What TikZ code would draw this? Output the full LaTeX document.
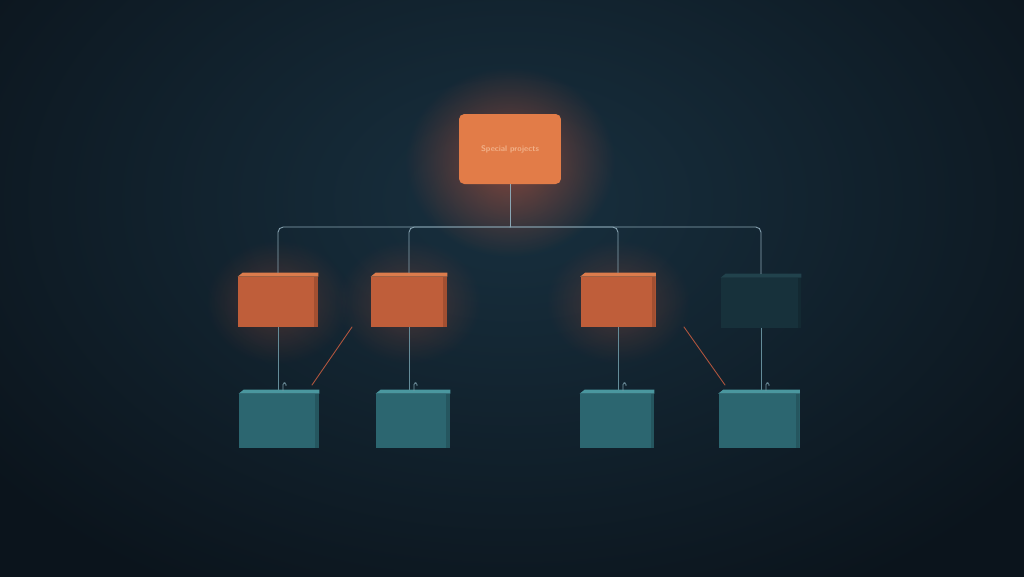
\documentclass[tikz,border=0pt]{standalone}
\usepackage{tikz}
\usetikzlibrary{fadings}

\definecolor{bgmid}{HTML}{18303F}
\definecolor{bgedge}{HTML}{0B141C}
\definecolor{topbox}{HTML}{E27C48}
\definecolor{glowcol}{HTML}{C8553A}
\definecolor{orbox}{HTML}{BF5E3A}
\definecolor{orlight}{HTML}{DC7C4C}
\definecolor{tealbox}{HTML}{2C6670}
\definecolor{teallight}{HTML}{4A979F}
\definecolor{darkbox}{HTML}{17313B}
\definecolor{darklight}{HTML}{21424C}
\definecolor{wirecol}{HTML}{8AA6B4}
\definecolor{redwire}{HTML}{B0553E}

\tikzfading[name=glowfade,inner color=transparent!0,outer color=transparent!100]

\begin{document}
\begin{tikzpicture}[x=0.02cm,y=-0.02cm,line cap=round]

    \tikzstyle{wire}=[draw=wirecol,line width=0.5pt,rounded corners=3pt]
    \tikzstyle{redline}=[draw=redwire,line width=0.5pt]
    \tikzstyle{cube}=[draw=none,inner sep=0pt,minimum height=1cm,
      path picture={\fill[black,opacity=0.15] ([xshift=-0.07cm]path picture bounding box.north east) rectangle (path picture bounding box.south east);}]
    \tikzstyle{glow}=[fill=#1,path fading=glowfade]

    % background
    \useasboundingbox (0,0) rectangle (1024,576);
    \clip (0,0) rectangle (1024,576);
    \shade[inner color=bgmid,outer color=bgedge] (-150,-250) rectangle (1174,650);

    % glows behind orange boxes
    \fill[glow=glowcol,opacity=0.6] (510,162) ellipse (105 and 95);
    \fill[glow=glowcol,opacity=0.3] (278,302) ellipse (72 and 62);
    \fill[glow=glowcol,opacity=0.3] (409,302) ellipse (72 and 62);
    \fill[glow=glowcol,opacity=0.3] (618,302) ellipse (72 and 62);

    % boxes
    \node[fill=topbox,rounded corners=3pt,minimum width=2.04cm,minimum height=1.4cm,
      text=orange!20!topbox!60!white,font=\fontsize{4.6}{5}\selectfont\sffamily\bfseries] (special) at (510,149) {Special projects};

    \node[cube,fill=orbox,minimum width=1.6cm]  (m1) at (278,302) {};
    \node[cube,fill=orbox,minimum width=1.52cm] (m2) at (409,302) {};
    \node[cube,fill=orbox,minimum width=1.5cm]  (m3) at (618,302) {};
    \node[cube,fill=darkbox,minimum width=1.6cm] (m4) at (761,303) {};

    \node[cube,fill=tealbox,minimum width=1.6cm,minimum height=1.08cm]  (b1) at (279,421) {};
    \node[cube,fill=tealbox,minimum width=1.48cm,minimum height=1.08cm] (b2) at (413,421) {};
    \node[cube,fill=tealbox,minimum width=1.48cm,minimum height=1.08cm] (b3) at (617,421) {};
    \node[cube,fill=tealbox,minimum width=1.62cm,minimum height=1.08cm] (b4) at (759,421) {};

    % top faces
    \foreach \n/\c in {m1/orlight,m2/orlight,m3/orlight,m4/darklight,b1/teallight,b2/teallight,b3/teallight,b4/teallight}
      \fill[\c] (\n.north west) -- ([xshift=0.1cm,yshift=0.08cm]\n.north west)
        -- ([yshift=0.08cm]\n.north east) -- (\n.north east) -- cycle;

    % connectors
    \coordinate (bus) at (510,227);
    \draw[wire] (special.south) -- (bus);
    \draw[wire] (bus) -| ([yshift=0.08cm]m1.north);
    \draw[wire] (bus) -| ([yshift=0.08cm]m2.north);
    \draw[wire] (bus) -| ([yshift=0.08cm]m3.north);
    \draw[wire] (bus) -| ([yshift=0.08cm]m4.north);

    \foreach \m/\b in {m1/b1,m2/b2,m3/b3,m4/b4}
      \draw[wire,draw=wirecol!60!tealbox] (\m.south) -- ([yshift=0.08cm]\m.south |- \b.north);

    % little hooks
    \foreach \m/\b in {m1/b1,m2/b2,m3/b3,m4/b4}
      \draw[draw=wirecol!80!tealbox,line width=0.4pt,rounded corners=1pt]
        ([xshift=0.1cm,yshift=0.06cm]\m.south |- \b.north) -- ++(0,-8) -- ++(3,0) -- ++(0,3);

    % red side links
    \coordinate (r1a) at (352,327);
    \coordinate (r1b) at (312,385);
    \coordinate (r2a) at (684,327);
    \coordinate (r2b) at (725,385);
    \draw[redline] (r1a) -- (r1b);
    \draw[redline] (r2a) -- (r2b);

\end{tikzpicture}
\end{document}
